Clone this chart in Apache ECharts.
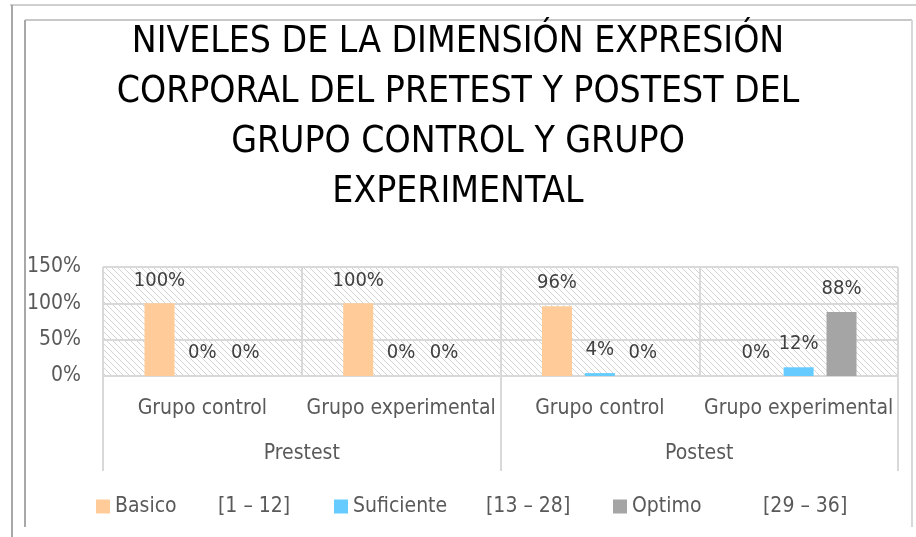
<!DOCTYPE html>
<html><head><meta charset="utf-8">
<script src="https://cdn.jsdelivr.net/npm/echarts@6/dist/echarts.min.js"></script>
<style>html,body{margin:0;padding:0;background:#fff}#c{width:916px;height:537px}</style>
</head><body><div id="c"></div>
<script>
const titleText = 'NIVELES DE LA DIMENSIÓN EXPRESIÓN\nCORPORAL DEL PRETEST Y POSTEST DEL\nGRUPO CONTROL Y GRUPO\nEXPERIMENTAL';
const groups = ['Grupo control', 'Grupo experimental', 'Grupo control', 'Grupo experimental'];
const phases = ['Prestest', 'Postest'];
const seriesNames = ['Basico', 'Suficiente', 'Optimo'];
const ranges = ['[1 – 12]', '[13 – 28]', '[29 – 36]'];
const basico = [100, 100, 96, 0];
const suficiente = [0, 0, 4, 12];
const optimo = [0, 0, 0, 88];
const yTicks = [0, 50, 100, 150];
const colors = ['#FFCC99', '#66CCFF', '#A5A5A5'];

const FONT = '"DejaVu Sans Condensed", "Liberation Sans Narrow", sans-serif';

// hatch pattern
const pc = document.createElement('canvas');
pc.width = 6; pc.height = 6;
const g = pc.getContext('2d');
g.fillStyle = '#ffffff'; g.fillRect(0,0,6,6);
g.strokeStyle = '#d4d4d4'; g.lineWidth = 1;
g.beginPath();
g.moveTo(0,0); g.lineTo(6,6);
g.moveTo(-3,3); g.lineTo(3,9);
g.moveTo(3,-3); g.lineTo(9,3);
g.stroke();

const chart = echarts.init(document.getElementById('c'));
const dataSets = [basico, suficiente, optimo];
const legendLeft = [96, 334, 613];
const nameWidth = [103, 133, 131];

chart.setOption({
  animation: false,
  title: {
    text: titleText, left: 'center', top: 12,
    textStyle: { fontFamily: FONT, fontSize: 37, fontWeight: 'normal', color: '#000', lineHeight: 50 }
  },
  graphic: [
    { type: 'line', shape: { x1: 10, y1: 5, x2: 916, y2: 5 }, style: { stroke: '#d0d0d0', lineWidth: 2 } },
    { type: 'line', shape: { x1: 12, y1: 5, x2: 12, y2: 537 }, style: { stroke: '#a8a8a8', lineWidth: 2 } },
    { type: 'line', shape: { x1: 25, y1: 20, x2: 912, y2: 20 }, style: { stroke: '#c8c8c8', lineWidth: 2 } },
    { type: 'line', shape: { x1: 25, y1: 20, x2: 25, y2: 527 }, style: { stroke: '#a8a8a8', lineWidth: 2 } },
    { type: 'line', shape: { x1: 912, y1: 20, x2: 912, y2: 527 }, style: { stroke: '#d8d8d8', lineWidth: 2 } }
  ],
  legend: seriesNames.map((n, i) => ({
    data: [n], left: legendLeft[i], top: 496, itemWidth: 14, itemHeight: 14, icon: 'rect',
    itemGap: 0, padding: 0,
    formatter: name => '{a|' + name + '}{b|' + ranges[i] + '}',
    textStyle: { fontFamily: FONT, fontSize: 21, color: '#595959',
      rich: { a: { width: nameWidth[i], fontFamily: FONT, fontSize: 21, color: '#595959' },
              b: { fontFamily: FONT, fontSize: 21, color: '#595959' } } }
  })),
  grid: {
    left: 103, right: 18, top: 267, bottom: 161, show: true,
    backgroundColor: { image: pc, repeat: 'repeat' },
    borderColor: '#d9d9d9', borderWidth: 1
  },
  xAxis: [
    {
      type: 'category', data: groups, position: 'bottom',
      axisLine: { show: true, lineStyle: { color: '#d9d9d9', width: 2 } },
      axisTick: { show: false },
      splitLine: { show: true, interval: 0, lineStyle: { color: '#d9d9d9', width: 2 } },
      axisLabel: { margin: 22, fontFamily: FONT, fontSize: 21, color: '#595959', interval: 0 }
    },
    {
      type: 'category', data: phases, position: 'bottom',
      axisLine: { show: false },
      axisTick: { show: true, length: 95, inside: false, lineStyle: { color: '#d9d9d9', width: 2 } },
      axisLabel: { margin: 67, fontFamily: FONT, fontSize: 21, color: '#595959' }
    }
  ],
  yAxis: {
    type: 'value', min: 0, max: 150, interval: 50,
    axisLine: { show: false }, axisTick: { show: false },
    splitLine: { show: true, lineStyle: { color: '#d9d9d9', width: 2 } },
    axisLabel: { margin: 22, fontFamily: FONT, fontSize: 21, color: '#595959', formatter: v => v + '%',
      padding: [4, 0, 0, 0] }
  },
  series: seriesNames.map((n, i) => ({
    name: n, type: 'bar', xAxisIndex: 0, data: dataSets[i],
    barWidth: 30, barGap: '43%',
    itemStyle: { color: colors[i] },
    label: { show: true, position: 'top', distance: 13, formatter: p => p.value + '%',
      fontFamily: FONT, fontSize: 20, color: '#404040' }
  }))
});
</script></body></html>
